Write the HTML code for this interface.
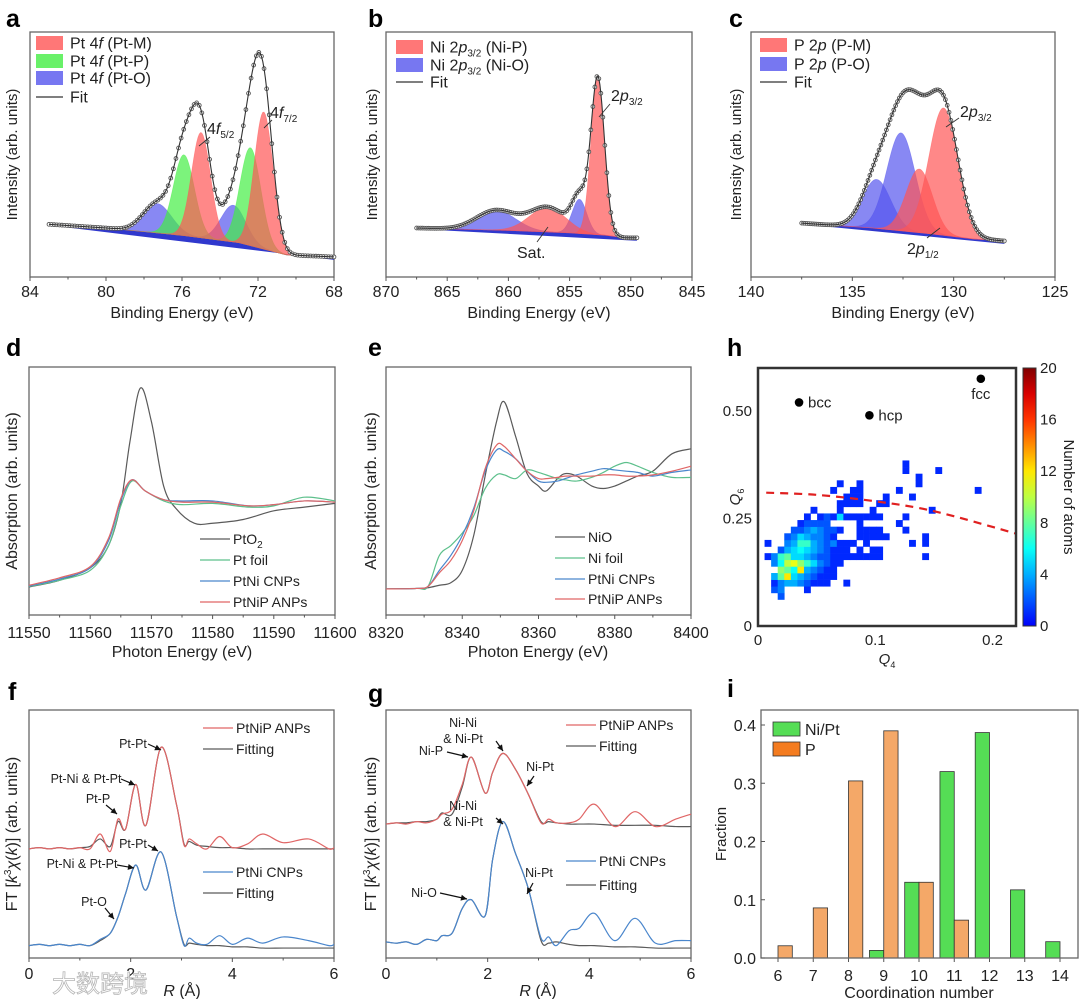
<!DOCTYPE html>
<html><head><meta charset="utf-8"><title>Figure</title>
<style>
html,body{margin:0;padding:0;background:#fff;}
svg{display:block;font-family:"Liberation Sans","Noto Sans CJK SC",sans-serif;}
</style></head>
<body>
<svg id="fig" width="1080" height="999" viewBox="0 0 1080 999" xmlns="http://www.w3.org/2000/svg"></svg>
<script>
// ---------------- DATA ----------------
// panel a (Pt 4f XPS)
const aBgX=[83,80,76,73,71,70.5,68];
const aBgY=[0.215,0.20,0.17,0.14,0.10,0.09,0.082];
const aCenters=[73.3,77.3,72.4,75.9,71.7,75.0];
const aHeights=[0.15,0.12,0.40,0.33,0.56,0.43];
const aSigmas=[0.65,0.75,0.55,0.55,0.5,0.5];
const aTypes=['O','O','P','P','M','M'];
const aTicks=[84,80,76,72,68];
// panel b (Ni 2p)
const bBgX=[867.5,860,855,852,850.5,849.5];
const bBgY=[0.20,0.19,0.18,0.17,0.16,0.16];
const bCenters=[861,854.2,856.8,852.7];
const bHeights=[0.08,0.14,0.10,0.64];
const bSigmas=[1.6,0.6,1.5,0.55];
const bTypes=['O','O','M','M'];
const bTicks=[870,865,860,855,850,845];
// panel c (P 2p)
const cBgX=[137.5,134,131,129,127.5];
const cBgY=[0.22,0.20,0.175,0.155,0.147];
const cCenters=[133.8,132.6,131.7,130.5];
const cHeights=[0.20,0.40,0.26,0.52];
const cSigmas=[0.7,0.7,0.65,0.72];
const cTypes=['O','O','M','M'];
const cTicks=[140,135,130,125];
// panel d (Pt L3 XANES)
const dX_PtO2=[11550,11555,11560,11563,11565,11566.5,11568.2,11570,11572,11574,11577,11580,11585,11590,11595,11600];
const dY_PtO2=[.113,.14,.19,.28,.45,.70,.915,.78,.52,.43,.37,.37,.385,.42,.435,.45];
const dX=[11550,11555,11560,11563,11565,11566.8,11569,11572,11575,11580,11586,11590,11595,11600];
const dY_foil=[.115,.14,.18,.28,.44,.54,.50,.46,.445,.45,.435,.44,.475,.46];
const dY_PtNi=[.117,.145,.19,.30,.46,.545,.50,.465,.46,.46,.44,.445,.46,.455];
const dY_PtNiP=[.12,.15,.195,.31,.47,.545,.50,.465,.455,.455,.44,.445,.46,.455];
const dTicks=[11550,11560,11570,11580,11590,11600];
// panel e (Ni K XANES)
const eX=[8320,8328,8331,8334,8337,8340,8343,8346,8349,8351,8354,8357,8360,8362,8365,8367,8370,8374,8377,8380,8383,8386,8390,8395,8400];
const eY_NiO=[.105,.107,.11,.12,.13,.18,.32,.56,.78,.86,.72,.57,.52,.50,.55,.57,.56,.52,.51,.52,.54,.56,.58,.65,.67];
const eY_foil=[.105,.107,.115,.24,.28,.33,.40,.51,.565,.565,.55,.585,.575,.565,.55,.545,.54,.555,.575,.60,.615,.60,.575,.555,.555];
const eY_PtNi=[.105,.107,.115,.18,.24,.32,.43,.58,.665,.66,.63,.58,.54,.535,.54,.55,.565,.58,.59,.585,.58,.575,.56,.575,.585];
const eY_PtNiP=[.105,.107,.115,.17,.22,.30,.42,.59,.685,.68,.63,.58,.55,.55,.555,.56,.56,.56,.565,.565,.56,.56,.565,.58,.60];
const eTicks=[8320,8340,8360,8380,8400];
// panel f (Pt EXAFS)
const fX=[0,.2,.4,.6,.8,1.0,1.2,1.4,1.6,1.75,1.9,2.1,2.3,2.6,2.9,3.05,3.15,3.3,3.5,3.75,4.0,4.3,4.6,5.0,5.5,5.9,6.0];
const fY_PtNiP=[.44,.445,.44,.445,.44,.445,.44,.50,.43,.56,.52,.70,.535,.85,.62,.455,.48,.46,.44,.49,.445,.46,.50,.465,.48,.44,.445];
const fY_PtNiPfit=[.44,.445,.44,.445,.44,.445,.45,.48,.45,.55,.52,.70,.535,.85,.62,.46,.47,.455,.45,.445,.445,.44,.44,.44,.44,.44,.44];
const fY_PtNi=[.05,.055,.05,.055,.05,.055,.05,.075,.10,.165,.26,.375,.274,.427,.17,.05,.08,.06,.055,.09,.055,.08,.06,.085,.07,.05,.055];
const fY_PtNifit=[.05,.055,.05,.055,.05,.055,.05,.07,.10,.165,.26,.375,.274,.427,.17,.055,.06,.055,.05,.05,.045,.045,.04,.04,.04,.04,.04];
const fTicks=[0,2,4,6];
// panel g (Ni EXAFS)
const gX=[0,.2,.4,.6,.8,1.0,1.1,1.3,1.5,1.68,1.95,2.1,2.3,2.55,2.8,3.05,3.2,3.35,3.6,3.8,4.1,4.5,4.9,5.3,5.7,6.0];
const gY_PtNiP=[.54,.545,.54,.55,.545,.56,.58,.60,.70,.81,.665,.75,.825,.76,.66,.545,.56,.545,.545,.56,.62,.53,.59,.53,.56,.58];
const gY_PtNiPfit=[.54,.545,.545,.55,.55,.56,.585,.58,.69,.81,.665,.75,.825,.76,.66,.55,.55,.545,.54,.54,.54,.535,.535,.535,.53,.53];
const gY_PtNi=[.065,.06,.065,.055,.075,.07,.09,.10,.20,.235,.17,.40,.55,.42,.28,.08,.085,.05,.11,.12,.18,.07,.16,.06,.07,.07];
const gY_PtNifit=[.065,.06,.065,.055,.075,.07,.09,.10,.20,.235,.17,.40,.55,.42,.28,.07,.06,.065,.055,.05,.05,.045,.045,.04,.04,.04];
const gTicks=[0,2,4,6];
// panel h (Q4-Q6 heat map)
const hRows=[ // rows j=4.. ; "binIndex:count"
"3:2",
"2:2 3:3 7:1",
"2:1 3:3 4:4 5:4 6:3 7:2 8:1 9:1 10:1 13:1",
"2:4 3:8 4:12 5:5 6:4 7:3 8:2 9:1 10:1 11:1",
"3:9 4:8 5:6 6:12 7:4 8:3 9:2 10:1 11:1",
"2:3 3:6 4:10 5:11 6:9 7:7 8:5 9:3 10:2 11:1 12:1",
"1:1 2:3 3:7 4:8 5:5 6:5 7:4 8:3 9:2 10:2 11:1 12:1 13:1 14:1 15:1 16:1 17:1 18:1 25:1",
"3:2 4:4 5:5 6:6 7:5 8:4 9:3 10:2 11:1 12:1 13:1 15:1 17:1 18:1",
"1:1 4:3 5:4 6:7 7:7 8:4 9:3 10:2 11:3 12:1 13:1 14:1 16:1 23:1 25:1",
"4:2 5:3 6:5 7:4 8:3 9:3 10:2 11:1 15:1 16:1 17:1 18:1 19:1 25:1",
"5:2 6:2 7:3 8:4 9:3 10:2 11:2 12:1 15:1 16:1 17:1 18:1 22:1",
"6:1 7:2 8:2 9:2 10:2 15:1 21:1",
"7:1 9:1 10:2 11:1 12:5 13:1 14:1 15:1 16:1 17:1 18:1 22:1",
"8:1 12:1 17:1 26:1",
"12:1 13:1 14:1 15:1 18:1 19:1",
"13:1 14:1 15:1 19:1 23:1",
"11:1 14:1 15:1 21:1 33:1",
"12:1 15:1 24:1",
"24:1",
"22:1 27:1",
"22:1"];
const hFirstRow=4;
const hBinQ4=0.0056, hBinQ6=0.0154;
const hRefNames=['bcc','hcp','fcc'];
const hRefQ4=[0.035,0.095,0.19];
const hRefQ6=[0.52,0.49,0.575];
const hDashQ4=[0.007,0.05,0.1,0.15,0.22];
const hDashQ6=[0.31,0.305,0.29,0.267,0.215];
const hXTicks=[0,0.1,0.2];
const hXTickLabels=['0','0.1','0.2'];
const hYTicks=[0,0.25,0.5];
const hYTickLabels=['0','0.25','0.50'];
const hCbTicks=[0,4,8,12,16,20];
// panel i (coordination histogram)
const iCats=[6,7,8,9,10,11,12,13,14];
const iNiPt=[0,0,0,0.013,0.13,0.32,0.387,0.117,0.028];
const iP=[0.021,0.086,0.304,0.39,0.13,0.065,0,0,0];
const iYTicks=[0,0.1,0.2,0.3,0.4];
const iYTickLabels=['0.0','0.1','0.2','0.3','0.4'];

// ---------------- HELPERS ----------------
const NS='http://www.w3.org/2000/svg';
const svg=document.getElementById('fig');
function mk(tag,attrs,parent){const e=document.createElementNS(NS,tag);for(const k in attrs)e.setAttribute(k,attrs[k]);(parent||svg).appendChild(e);return e;}
function nm(e,n){


return e;}
function txt(x,y,s,o,parent){o=o||{};const e=mk('text',Object.assign({x:x,y:y,'font-size':15,fill:'#222'},o),parent);e.textContent=s;return e;}
function lin(x0,x1,p0,p1){return v=>p0+(v-x0)/(x1-x0)*(p1-p0);}
function smooth(p){let d='M'+p[0][0].toFixed(2)+','+p[0][1].toFixed(2);for(let i=0;i<p.length-1;i++){const a=p[i-1]||p[i],b=p[i],c=p[i+1],e=p[i+2]||c;d+=' C'+(b[0]+(c[0]-a[0])/6).toFixed(2)+','+(b[1]+(c[1]-a[1])/6).toFixed(2)+' '+(c[0]-(e[0]-b[0])/6).toFixed(2)+','+(c[1]-(e[1]-b[1])/6).toFixed(2)+' '+c[0].toFixed(2)+','+c[1].toFixed(2);}return d;}
function interp(xs,ys,x){for(let i=0;i<xs.length-1;i++){const a=xs[i],b=xs[i+1];if((x-a)*(x-b)<=0){return ys[i]+(x-a)/(b-a)*(ys[i+1]-ys[i]);}}return x*Math.sign(xs[1]-xs[0])<xs[0]*Math.sign(xs[1]-xs[0])?ys[0]:ys[ys.length-1];}
function gauss(x,c,h,s){return h*Math.exp(-(x-c)*(x-c)/(2*s*s));}
function frame(g,b,name){const r=mk('rect',{x:b.x0,y:b.y0,width:b.x1-b.x0,height:b.y1-b.y0,fill:'none',stroke:'#666','stroke-width':1.3},g);nm(r,name);}
function xTicks(g,b,sx,ticks,labels,ty,minor){
 ticks.forEach((t,k)=>{const x=sx(t);const l=mk('line',{x1:x,x2:x,y1:b.y1,y2:b.y1+4,stroke:'#555','stroke-width':1},g);nm(l,'x-tick');
 const tt=txt(x,ty,labels?labels[k]:String(t),{'text-anchor':'middle','font-size':16},g);nm(tt,'x-tick-label');});
 if(minor){for(let k=0;k<ticks.length-1;k++){const x=(sx(ticks[k])+sx(ticks[k+1]))/2;const l=mk('line',{x1:x,x2:x,y1:b.y1,y2:b.y1+2.5,stroke:'#555','stroke-width':1},g);nm(l,'x-minor-tick');}}
}
function letter(g,x,y,s){const t=txt(x,y,s,{'font-size':25,'font-weight':'bold',fill:'#000'},g);nm(t,'panel-label-'+s);}
function ylab(g,x,y,s,size){const t=txt(0,0,s,{'text-anchor':'middle','font-size':size||15,transform:'translate('+x+','+y+') rotate(-90)'},g);return t;}
function xlab(g,x,y,s){const t=txt(x,y,s,{'text-anchor':'middle','font-size':16},g);nm(t,'x-axis-title');return t;}
function addTitleBE(g,x,y){const t=xlab(g,x,y,'Binding Energy (eV)');}
const COL={M:'#ff5555',P:'#44ee44',O:'#5555ee'};

// ---------------- XPS panels ----------------
function xps(cfg){
 const g=mk('g',{});nm(g,'panel-'+cfg.id);
 const b=cfg.box;
 const sx=lin(cfg.xd[0],cfg.xd[1],b.x0,b.x1);
 const sy=lin(0,1,b.y1,b.y0);
 frame(g,b,'plot-frame');
 const x0=cfg.bgX[0],x1=cfg.bgX[cfg.bgX.length-1];
 const N=220;const xs=[];for(let k=0;k<=N;k++)xs.push(x0+(x1-x0)*k/N);
 const bg=xs.map(x=>interp(cfg.bgX,cfg.bgY,x));
 const bgd='M'+xs.map((x,k)=>sx(x).toFixed(2)+','+sy(bg[k]).toFixed(2)).join(' L')+' L'+sx(x1)+','+sy(bg[N]-0.012)+' L'+sx(x0)+','+sy(bg[0]-0.004)+'Z';
 const bp=mk('path',{d:bgd,fill:'#1a22c8',opacity:0.9},g);nm(bp,'background-band');
 cfg.centers.forEach((c,ci)=>{
  const top=xs.map((x,k)=>[sx(x),sy(bg[k]+gauss(x,c,cfg.heights[ci],cfg.sigmas[ci]))]);
  let d='M'+top.map(p=>p[0].toFixed(2)+','+p[1].toFixed(2)).join(' L');
  for(let k=N;k>=0;k--)d+=' L'+sx(xs[k]).toFixed(2)+','+sy(bg[k]).toFixed(2);
  const p=mk('path',{d:d+'Z',fill:COL[cfg.types[ci]],'fill-opacity':0.7,stroke:COL[cfg.types[ci]],'stroke-opacity':0.5,'stroke-width':0.6},g);nm(p,'component-peak-'+cfg.types[ci]);
 });
 const fit=xs.map((x,k)=>{let s=bg[k];cfg.centers.forEach((c,ci)=>s+=gauss(x,c,cfg.heights[ci],cfg.sigmas[ci]));return s;});
 for(let k=0;k<=N;k+=2){const c=mk('circle',{cx:sx(xs[k]),cy:sy(fit[k]),r:1.9,fill:'#fff',stroke:'#555','stroke-width':0.9},g);nm(c,'data-point');}
 const fp=mk('path',{d:'M'+xs.map((x,k)=>sx(x).toFixed(2)+','+sy(fit[k]).toFixed(2)).join(' L'),fill:'none',stroke:'#333','stroke-width':1.1},g);nm(fp,'fit-line');
 xTicks(g,b,sx,cfg.ticks,null,297,true);
 addTitleBE(g,(b.x0+b.x1)/2,318);
 const yl=ylab(g,cfg.ylx,(b.y0+b.y1)/2,'Intensity (arb. units)');nm(yl,'y-axis-title');
 letter(g,cfg.lx,27,cfg.id);
 const lg=mk('g',{});nm(lg,'legend');g.appendChild(lg);
 cfg.legend.forEach((L,k)=>{
  const y=cfg.ly[k];
  if(L.type==='line'){const l=mk('line',{x1:cfg.lsx,x2:cfg.lsx+27,y1:y,y2:y,stroke:'#333','stroke-width':1.2},lg);nm(l,'legend-swatch');}
  else{const r=mk('rect',{x:cfg.lsx,y:y-7,width:27,height:14,fill:COL[L.type],'fill-opacity':0.8},lg);nm(r,'legend-swatch');}
  const t=mk('text',{x:cfg.lsx+34,y:y+5.5,'font-size':16,fill:'#222'},lg);nm(t,'legend-entry');t.innerHTML=L.html;
 });
 (cfg.ann||[]).forEach(A=>{const l=mk('line',{x1:A.l[0],y1:A.l[1],x2:A.l[2],y2:A.l[3],stroke:'#333','stroke-width':0.9},g);nm(l,'annotation-leader');
  const t=mk('text',{x:A.x,y:A.y,'font-size':16,fill:'#222'},g);nm(t,'peak-annotation');t.innerHTML=A.html;});
}
const it=s=>'<tspan font-style="italic">'+s+'</tspan>';
const sub=s=>'<tspan font-size="10" dy="4">'+s+'</tspan><tspan dy="-4"> </tspan>';
xps({id:'a',box:{x0:30,x1:334,y0:32,y1:277},xd:[84,68],bgX:aBgX,bgY:aBgY,centers:aCenters,heights:aHeights,sigmas:aSigmas,types:aTypes,ticks:aTicks,ylx:17,lx:6,lsx:36,ly:[43,61,78,97],
 legend:[{type:'M',html:'Pt 4'+it('f')+' (Pt-M)'},{type:'P',html:'Pt 4'+it('f')+' (Pt-P)'},{type:'O',html:'Pt 4'+it('f')+' (Pt-O)'},{type:'line',html:'Fit'}],
 ann:[{x:207,y:134,html:'4'+it('f')+sub('5/2'),l:[210,137,199,146]},{x:270,y:118,html:'4'+it('f')+sub('7/2'),l:[272,120,264,128]}]});
xps({id:'b',box:{x0:386,x1:692,y0:32,y1:277},xd:[870,845],bgX:bBgX,bgY:bBgY,centers:bCenters,heights:bHeights,sigmas:bSigmas,types:bTypes,ticks:bTicks,ylx:377,lx:368,lsx:396,ly:[47,65,82],
 legend:[{type:'M',html:'Ni 2'+it('p')+sub('3/2')+'(Ni-P)'},{type:'O',html:'Ni 2'+it('p')+sub('3/2')+'(Ni-O)'},{type:'line',html:'Fit'}],
 ann:[{x:611,y:101,html:'2'+it('p')+sub('3/2'),l:[610,104,599,117]},{x:517,y:258,html:'Sat.',l:[537,242,548,227]}]});
xps({id:'c',box:{x0:751,x1:1055,y0:32,y1:277},xd:[140,125],bgX:cBgX,bgY:cBgY,centers:cCenters,heights:cHeights,sigmas:cSigmas,types:cTypes,ticks:cTicks,ylx:741,lx:729,lsx:760,ly:[45,64,82],
 legend:[{type:'M',html:'P 2'+it('p')+' (P-M)'},{type:'O',html:'P 2'+it('p')+' (P-O)'},{type:'line',html:'Fit'}],
 ann:[{x:960,y:117,html:'2'+it('p')+sub('3/2'),l:[959,118,946,127]},{x:907,y:254,html:'2'+it('p')+sub('1/2'),l:[927,238,940,228]}]});

// ---------------- line panels ----------------
function linePanel(cfg){
 const g=mk('g',{});nm(g,'panel-'+cfg.id);
 const b=cfg.box;
 const sx=lin(cfg.xd[0],cfg.xd[1],b.x0,b.x1);
 const sy=lin(0,1,b.y1,b.y0);
 frame(g,b,'plot-frame');
 cfg.series.forEach(S=>{const pts=S.x.map((x,k)=>[sx(x),sy(S.y[k])]);const p=mk('path',{d:smooth(pts),fill:'none',stroke:S.c,'stroke-width':1.2},g);nm(p,S.name);});
 xTicks(g,b,sx,cfg.ticks,null,cfg.ty,true);
 letter(g,cfg.lx,cfg.ly,cfg.id);
 const lg=mk('g',{});nm(lg,'legend');g.appendChild(lg);
 cfg.legend.forEach(L=>{const l=mk('line',{x1:cfg.lsx,x2:cfg.lsx+30,y1:L.y,y2:L.y,stroke:L.c,'stroke-width':1.2},lg);nm(l,'legend-swatch');
  const t=mk('text',{x:cfg.lsx+33,y:L.y+5,'font-size':14,fill:'#222'},lg);nm(t,'legend-entry');t.innerHTML=L.html;});
 (cfg.ann||[]).forEach(A=>{A.t.forEach((s,k)=>{const t=txt(A.x,A.y+k*16,s,{'font-size':12.5,'text-anchor':'middle'},g);nm(t,'peak-annotation');});
  const l=mk('line',{x1:A.l[0],y1:A.l[1],x2:A.l[2],y2:A.l[3],stroke:'#111','stroke-width':1.2},g);nm(l,'annotation-arrow');
  const dx=A.l[2]-A.l[0],dy=A.l[3]-A.l[1],L=Math.hypot(dx,dy),ux=dx/L,uy=dy/L;
  const h=mk('path',{d:'M'+A.l[2]+','+A.l[3]+' L'+(A.l[2]-6*ux-3*uy)+','+(A.l[3]-6*uy+3*ux)+' L'+(A.l[2]-6*ux+3*uy)+','+(A.l[3]-6*uy-3*ux)+'Z',fill:'#111'},g);nm(h,'arrow-head');});
 return g;
}
const C_GRAY='#5a5a5a',C_GREEN='#5dc08c',C_BLUE='#4a86cc',C_RED='#e06666';
const gd=linePanel({id:'d',box:{x0:29,x1:335,y0:367,y1:615},xd:[11550,11600],ticks:dTicks,ty:638,lx:6,ly:356,lsx:200,
 series:[{x:dX_PtO2,y:dY_PtO2,c:C_GRAY,name:'line-PtO2'},{x:dX,y:dY_foil,c:C_GREEN,name:'line-Pt-foil'},{x:dX,y:dY_PtNi,c:C_BLUE,name:'line-PtNi-CNPs'},{x:dX,y:dY_PtNiP,c:C_RED,name:'line-PtNiP-ANPs'}],
 legend:[{y:539,c:C_GRAY,html:'PtO<tspan font-size="10" dy="4">2</tspan>'},{y:560,c:C_GREEN,html:'Pt foil'},{y:581,c:C_BLUE,html:'PtNi CNPs'},{y:602,c:C_RED,html:'PtNiP ANPs'}]});
(function(){const t=ylab(gd,17,491,'Absorption (arb. units)',16);nm(t,'y-axis-title');const x=xlab(gd,182,657,'Photon Energy (eV)');})();
const ge=linePanel({id:'e',box:{x0:386,x1:691,y0:367,y1:615},xd:[8320,8400],ticks:eTicks,ty:638,lx:368,ly:356,lsx:555,
 series:[{x:eX,y:eY_NiO,c:C_GRAY,name:'line-NiO'},{x:eX,y:eY_foil,c:C_GREEN,name:'line-Ni-foil'},{x:eX,y:eY_PtNi,c:C_BLUE,name:'line-PtNi-CNPs'},{x:eX,y:eY_PtNiP,c:C_RED,name:'line-PtNiP-ANPs'}],
 legend:[{y:537,c:C_GRAY,html:'NiO'},{y:558,c:C_GREEN,html:'Ni foil'},{y:579,c:C_BLUE,html:'PtNi CNPs'},{y:599,c:C_RED,html:'PtNiP ANPs'}]});
(function(){const t=ylab(ge,376,491,'Absorption (arb. units)',16);nm(t,'y-axis-title');const x=xlab(ge,538,657,'Photon Energy (eV)');})();
const FTlab='FT [<tspan font-style="italic">k</tspan><tspan font-size="10" dy="-6">3</tspan><tspan dy="6" font-style="italic">χ</tspan>(<tspan font-style="italic">k</tspan>)] (arb. units)';
const Rlab='<tspan font-style="italic">R</tspan> (Å)';
const gf=linePanel({id:'f',box:{x0:29,x1:334,y0:710,y1:958},xd:[0,6],ticks:fTicks,ty:979,lx:8,ly:700,lsx:203,
 series:[{x:fX,y:fY_PtNiPfit,c:C_GRAY,name:'line-PtNiP-fitting'},{x:fX,y:fY_PtNiP,c:C_RED,name:'line-PtNiP-ANPs'},{x:fX,y:fY_PtNifit,c:C_GRAY,name:'line-PtNi-fitting'},{x:fX,y:fY_PtNi,c:C_BLUE,name:'line-PtNi-CNPs'}],
 legend:[{y:728,c:C_RED,html:'PtNiP ANPs'},{y:749,c:C_GRAY,html:'Fitting'},{y:872,c:C_BLUE,html:'PtNi CNPs'},{y:893,c:C_GRAY,html:'Fitting'}],
 ann:[{x:133,y:748,t:['Pt-Pt'],l:[148,744,161,750]},{x:86,y:783,t:['Pt-Ni & Pt-Pt'],l:[121,779,135,785]},{x:98,y:803,t:['Pt-P'],l:[106,805,117,814]},
      {x:133,y:848,t:['Pt-Pt'],l:[148,845,158,851]},{x:82,y:868,t:['Pt-Ni & Pt-Pt'],l:[117,865,134,868]},{x:94,y:906,t:['Pt-O'],l:[105,908,114,919]}]});
(function(){const t=ylab(gf,17,834,'',16);t.innerHTML=FTlab;nm(t,'y-axis-title');const x=mk('text',{x:182,y:996,'font-size':16,'text-anchor':'middle',fill:'#222'},gf);x.innerHTML=Rlab;nm(x,'x-axis-title');})();
const gg=linePanel({id:'g',box:{x0:386,x1:691,y0:710,y1:958},xd:[0,6],ticks:gTicks,ty:979,lx:368,ly:702,lsx:566,
 series:[{x:gX,y:gY_PtNiPfit,c:C_GRAY,name:'line-PtNiP-fitting'},{x:gX,y:gY_PtNiP,c:C_RED,name:'line-PtNiP-ANPs'},{x:gX,y:gY_PtNifit,c:C_GRAY,name:'line-PtNi-fitting'},{x:gX,y:gY_PtNi,c:C_BLUE,name:'line-PtNi-CNPs'}],
 legend:[{y:725,c:C_RED,html:'PtNiP ANPs'},{y:746,c:C_GRAY,html:'Fitting'},{y:861,c:C_BLUE,html:'PtNi CNPs'},{y:885,c:C_GRAY,html:'Fitting'}],
 ann:[{x:463,y:727,t:['Ni-Ni','& Ni-Pt'],l:[496,741,503,751]},{x:431,y:755,t:['Ni-P'],l:[447,752,468,757]},{x:540,y:771,t:['Ni-Pt'],l:[534,776,527,786]},
      {x:463,y:810,t:['Ni-Ni','& Ni-Pt'],l:[496,818,503,824]},{x:424,y:897,t:['Ni-O'],l:[440,893,467,899]},{x:539,y:877,t:['Ni-Pt'],l:[533,883,527,894]}]});
(function(){const t=ylab(gg,376,834,'',16);t.innerHTML=FTlab;nm(t,'y-axis-title');const x=mk('text',{x:538,y:996,'font-size':16,'text-anchor':'middle',fill:'#222'},gg);x.innerHTML=Rlab;nm(x,'x-axis-title');})();

// ---------------- panel h ----------------
(function(){
 const g=mk('g',{});nm(g,'panel-h');
 const b={x0:758,x1:1016,y0:368,y1:626};
 const sx=lin(0,0.22,b.x0,b.x1), sy=lin(0,0.6,b.y1,b.y0);
 function jet(t){const r=Math.min(1,Math.max(0,1.5-Math.abs(4*t-3))),gg=Math.min(1,Math.max(0,1.5-Math.abs(4*t-2))),bb=Math.min(1,Math.max(0,1.5-Math.abs(4*t-1)));return 'rgb('+Math.round(r*255)+','+Math.round(gg*255)+','+Math.round(bb*255)+')';}
 const scale=v=>0.12+0.88*v/20;
 hRows.forEach((row,r)=>{const j=hFirstRow+r;row.split(' ').forEach(s=>{const p=s.split(':');const i=+p[0],v=+p[1];
  const x=sx(i*hBinQ4),w=sx((i+1)*hBinQ4)-x,y=sy((j+1)*hBinQ6),h=sy(j*hBinQ6)-y;
  const c=mk('rect',{x:x,y:y,width:w+0.3,height:h+0.3,fill:jet(scale(v))},g);nm(c,'heatmap-cell');});});
 const pts=hDashQ4.map((q,k)=>[sx(q),sy(hDashQ6[k])]);
 const dl=mk('path',{d:smooth(pts),fill:'none',stroke:'#e02020','stroke-width':2.2,'stroke-dasharray':'8,6'},g);nm(dl,'boundary-dashed-line');
 hRefNames.forEach((n,k)=>{const c=mk('circle',{cx:sx(hRefQ4[k]),cy:sy(hRefQ6[k]),r:4.3,fill:'#000'},g);nm(c,'reference-point-'+n);
  const t=n==='fcc'?txt(sx(hRefQ4[k]),sy(hRefQ6[k])+20,n,{'text-anchor':'middle','font-size':15},g):txt(sx(hRefQ4[k])+9,sy(hRefQ6[k])+5,n,{'font-size':15},g);nm(t,'reference-label');});
 const fr=mk('rect',{x:b.x0,y:b.y0,width:b.x1-b.x0,height:b.y1-b.y0,fill:'none',stroke:'#333','stroke-width':2.5},g);nm(fr,'plot-frame');
 hXTicks.forEach((v,k)=>{const t=txt(sx(v),645,hXTickLabels[k],{'text-anchor':'middle','font-size':15},g);nm(t,'x-tick-label');});
 hYTicks.forEach((v,k)=>{const t=txt(752,sy(v)+5,hYTickLabels[k],{'text-anchor':'end','font-size':15},g);nm(t,'y-tick-label');});
 const xl=mk('text',{x:887,y:664,'font-size':15,'text-anchor':'middle',fill:'#222'},g);xl.innerHTML='<tspan font-style="italic">Q</tspan><tspan font-size="9" dy="4">4</tspan>';nm(xl,'x-axis-title');
 const yl=mk('text',{x:0,y:0,'font-size':15,'text-anchor':'middle',fill:'#222',transform:'translate(740,497) rotate(-90)'},g);yl.innerHTML='<tspan font-style="italic">Q</tspan><tspan font-size="9" dy="4">6</tspan>';nm(yl,'y-axis-title');
 const defs=mk('defs',{},g);const lgd=mk('linearGradient',{id:'jetg',x1:0,y1:1,x2:0,y2:0},defs);
 for(let k=0;k<=10;k++){mk('stop',{offset:k/10,'stop-color':jet(0.12+0.88*k/10)},lgd);}
 const cb=mk('rect',{x:1023,y:368,width:13,height:258,fill:'url(#jetg)',stroke:'#333','stroke-width':1},g);nm(cb,'colorbar');
 const cy=lin(0,20,626,368);
 hCbTicks.forEach(v=>{const t=txt(1040,cy(v)+5,String(v),{'font-size':15},g);nm(t,'colorbar-tick-label');});
 const cl=txt(0,0,'Number of atoms',{'text-anchor':'middle','font-size':15,transform:'translate(1064,497) rotate(90)'},g);nm(cl,'colorbar-title');
 letter(g,727,356,'h');
})();

// ---------------- panel i ----------------
(function(){
 const g=mk('g',{});nm(g,'panel-i');
 const b={x0:761,x1:1078,y0:710,y1:958};
 const sx=lin(6,14,778,1060), sy=lin(0,0.4,958,725);
 const bw=14.3;
 iCats.forEach((c,k)=>{
  if(iNiPt[k]>0){const y=sy(iNiPt[k]);const r=mk('rect',{x:sx(c)-bw,y:y,width:bw,height:sy(0)-y,fill:'#55dd55',stroke:'#333','stroke-width':0.8},g);nm(r,'bar-NiPt-'+c);}
  if(iP[k]>0){const y=sy(iP[k]);const r=mk('rect',{x:sx(c),y:y,width:bw,height:sy(0)-y,fill:'#f4a868',stroke:'#333','stroke-width':0.8},g);nm(r,'bar-P-'+c);}
  const l=mk('line',{x1:sx(c),x2:sx(c),y1:958,y2:962,stroke:'#555'},g);nm(l,'x-tick');
  const t=txt(sx(c),981,String(c),{'text-anchor':'middle','font-size':16},g);nm(t,'x-tick-label');
 });
 const fr=mk('rect',{x:b.x0,y:b.y0,width:b.x1-b.x0,height:b.y1-b.y0,fill:'none',stroke:'#666','stroke-width':1.3},g);nm(fr,'plot-frame');
 iYTicks.forEach((v,k)=>{const l=mk('line',{x1:761,x2:765,y1:sy(v),y2:sy(v),stroke:'#555'},g);nm(l,'y-tick');
  const t=txt(756,sy(v)+6,iYTickLabels[k],{'text-anchor':'end','font-size':16},g);nm(t,'y-tick-label');});
 const xl=txt(919,998,'Coordination number',{'text-anchor':'middle','font-size':16},g);nm(xl,'x-axis-title');
 const yl=ylab(g,726,834,'Fraction',15);nm(yl,'y-axis-title');
 const lg=mk('g',{},g);nm(lg,'legend');
 const r1=mk('rect',{x:773,y:722,width:27,height:14,fill:'#55dd55',stroke:'#333','stroke-width':0.8},lg);nm(r1,'legend-swatch');
 const t1=txt(805,735,'Ni/Pt',{'font-size':16},lg);nm(t1,'legend-entry');
 const r2=mk('rect',{x:773,y:742,width:27,height:14,fill:'#f47c20',stroke:'#333','stroke-width':0.8},lg);nm(r2,'legend-swatch');
 const t2=txt(805,755,'P',{'font-size':16},lg);nm(t2,'legend-entry');
 letter(g,727,697,'i');
})();
(function(){const w=txt(52,992,'大数跨境',{'font-size':24,fill:'#fff',stroke:'#aaa','stroke-width':0.8,opacity:0.85});nm(w,'watermark');})();
</script>
</body></html>
